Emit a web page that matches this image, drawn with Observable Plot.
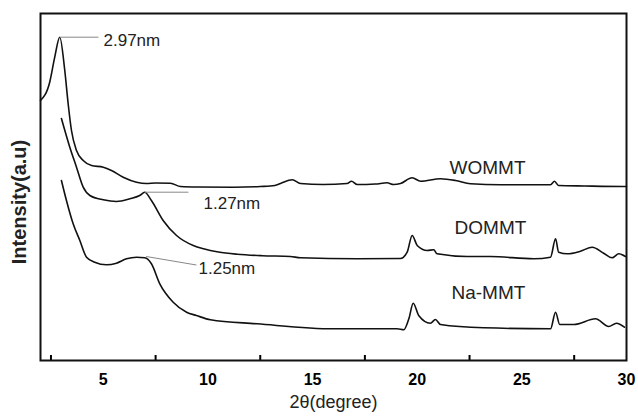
<!DOCTYPE html>
<html>
<head>
<meta charset="utf-8">
<script src="https://cdn.jsdelivr.net/npm/d3@7"></script>
<script src="https://cdn.jsdelivr.net/npm/@observablehq/plot@0.6"></script>
<style>
  html, body { margin: 0; padding: 0; background: #fff; }
  #chart { width: 638px; height: 416px; }
</style>
</head>
<body>
<div id="chart"></div>
<script>
// ---- Data ----
const womTheta = [2.00, 2.44, 2.68, 2.92, 3.16, 3.32, 3.48, 3.72, 4.04, 4.44, 5.00, 5.39, 5.95, 6.59, 7.06, 7.5, 8.21, 8.69, 9.5, 11.22, 12.5, 13.2, 13.47, 14.03, 14.42, 15.5, 16.65, 16.86, 17.13, 18.0, 18.56, 18.87, 19.2, 19.76, 20.16, 21.11, 21.83, 22.55, 23.98, 26.37, 26.56, 26.75, 28.0, 29.86, 30.0];
const womI     = [260, 278.3, 303.3, 323.3, 290, 257, 230, 210, 200, 195, 193.3, 190, 183.3, 178.3, 177, 177.5, 177.3, 174, 173.5, 173.3, 174, 175, 177, 180.7, 177, 176, 177, 179.3, 176, 176.5, 177.7, 176, 177, 182.7, 179.3, 181.7, 180, 176.7, 175.7, 175.7, 179.3, 175, 174.5, 174, 174];

const domTheta = [3.00, 3.40, 3.72, 4.04, 4.36, 5.00, 5.63, 6.27, 6.74, 6.98, 7.30, 7.86, 8.50, 9.30, 9.79, 10.5, 11.4, 12.6, 13.94, 14.42, 17.13, 19.20, 19.52, 19.76, 20.00, 20.48, 20.79, 20.95, 22.39, 23.50, 25.57, 26.37, 26.61, 26.76, 27.17, 27.80, 28.36, 28.91, 29.31, 29.63, 29.95];
const domI     = [242, 213.3, 193.3, 173.3, 165, 160.7, 159, 161.7, 165, 168.3, 160, 140, 125, 115, 111.7, 108.5, 106.3, 104.8, 104, 102.7, 101.7, 102, 108.3, 125, 115, 110, 110.7, 106.7, 104, 104, 101.7, 103.3, 121.7, 108.3, 106.7, 109.3, 113.3, 107.3, 102.7, 106.7, 104];

const naTheta = [3.00, 3.24, 3.56, 3.88, 4.20, 4.59, 5.15, 5.63, 6.11, 6.59, 6.98, 7.30, 7.70, 8.34, 8.98, 9.45, 10.12, 12.35, 16.01, 19.04, 19.36, 19.60, 19.81, 20.07, 20.63, 20.87, 21.11, 23.18, 26.37, 26.61, 26.81, 27.48, 28.52, 29.15, 29.52, 29.90];
const naI     = [180, 160, 136.7, 120, 103.3, 98.3, 95.7, 97.3, 101.7, 103.3, 102.7, 96.7, 76.7, 58.3, 48.3, 45, 40.7, 36.7, 31.7, 31.7, 30.7, 41.7, 57.3, 45, 37.3, 41, 36, 32.7, 31.7, 48.3, 36, 36, 41.7, 34, 37.3, 33.3];

const seriesNames  = ["WOMMT", "DOMMT", "Na-MMT"];
const seriesLabelX = [23.36, 23.5, 23.4];
const seriesLabelY = [193, 133, 68];

const peakLabels = ["2.97nm", "1.27nm", "1.25nm"];
const peakX      = [2.92, 6.98, 7.05];
const peakY      = [323.3, 168.3, 104];
const leaderEndX = [4.77, 9.07, 9.45];
const leaderEndY = [323.3, 168.3, 95.5];
const peakTextX  = [5.01, 9.79, 9.55];
const peakTextY  = [320, 157, 92];

const xMajorTicks = [5, 10, 15, 20, 25, 30];
const xMinorTicks = [2.5, 7.5, 12.5, 17.5, 22.5, 27.5];
const xDomain = [2, 30];
const yDomain = [0, 347];
const xTitle = "2θ(degree)";
const yTitle = "Intensity(a.u)";

// ---- Build tables ----
const toRows = (xs, ys) => xs.map((x, i) => ({x, y: ys[i]}));
const curves = [toRows(womTheta, womI), toRows(domTheta, domI), toRows(naTheta, naI)];
const seriesLabels = seriesNames.map((name, i) => ({name, x: seriesLabelX[i], y: seriesLabelY[i]}));
const peaks = peakLabels.map((t, i) => ({t, x1: peakX[i], y1: peakY[i], x2: leaderEndX[i], y2: leaderEndY[i], tx: peakTextX[i], ty: peakTextY[i]}));

const font = "'Liberation Sans', Arial, Helvetica, sans-serif";

const chart = Plot.plot({
  width: 638,
  height: 416,
  marginLeft: 40,
  marginRight: 12,
  marginTop: 13,
  marginBottom: 56,
  style: {fontFamily: font, background: "#fff", color: "#000"},
  x: {domain: xDomain},
  y: {domain: yDomain, axis: null},
  marks: [
    Plot.axisX(xMajorTicks, {tickSize: 0, tickPadding: 13, fontSize: 16, fontWeight: "bold", label: null, tickFormat: d => String(d)}),
    Plot.axisX(xMinorTicks, {tickSize: -5, strokeWidth: 2, tickFormat: () => "", label: null}),
    ...curves.map(c => Plot.line(c, {x: "x", y: "y", stroke: "#111", strokeWidth: 1.6, curve: "monotone-x"})),
    Plot.link(peaks, {x1: "x1", y1: "y1", x2: "x2", y2: "y2", stroke: "#888", strokeWidth: 1}),
    Plot.text(peaks, {x: "tx", y: "ty", text: "t", textAnchor: "start", fontSize: 17, fill: "#222"}),
    Plot.text(seriesLabels, {x: "x", y: "y", text: "name", fontSize: 19, fill: "#222"}),
    Plot.text([xTitle], {text: d => d, frameAnchor: "bottom", dy: 47, fontSize: 18, fill: "#222"}),
    Plot.text([yTitle], {text: d => d, frameAnchor: "left", textAnchor: "middle", dx: -21, dy: 15, rotate: -90, fontSize: 20, fontWeight: "bold", fill: "#222"}),
    Plot.frame({stroke: "#111", strokeWidth: 2})
  ]
});
document.getElementById("chart").appendChild(chart);
</script>
</body>
</html>
